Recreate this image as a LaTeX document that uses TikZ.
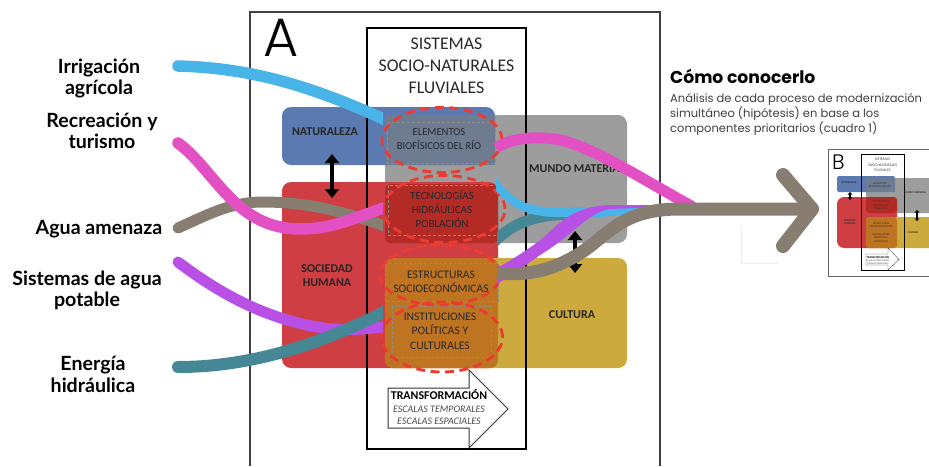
\documentclass[tikz,border=0pt]{standalone}
\usepackage{fontspec}
\setmainfont{Carlito}
\newfontfamily\lblf{Lato}
\newfontfamily\gothf{Poppins}
\newfontfamily\gothl[UprightFont=* Light]{Poppins}
\usetikzlibrary{arrows.meta,shapes.geometric}
\definecolor{cblue}{RGB}{72,180,232}
\definecolor{cmag}{RGB}{226,80,195}
\definecolor{cgrey}{RGB}{135,125,112}
\definecolor{cpur}{RGB}{185,80,230}
\definecolor{cteal}{RGB}{70,135,150}
\definecolor{bblue}{RGB}{92,122,178}
\definecolor{bgrey}{RGB}{157,157,157}
\definecolor{bbg}{RGB}{110,124,145}
\definecolor{bred}{RGB}{206,62,66}
\definecolor{bdred}{RGB}{180,42,36}
\definecolor{byel}{RGB}{205,170,62}
\definecolor{bora}{RGB}{190,116,32}
\definecolor{cdash}{RGB}{236,60,50}
\definecolor{ctxt}{RGB}{40,40,45}
\tikzset{
  x=1pt,y=-1pt,
  flow/.style={line width=#1,line cap=butt},
  lbl/.style={font=\lblf\bfseries\fontsize{19.6}{21.5}\selectfont,align=center,text=black,inner sep=0},
  ttl/.style={font=\fontsize{17.8}{22}\selectfont,align=center,text=ctxt,inner sep=0},
  poolcap/.style={font=\bfseries\fontsize{12}{14}\selectfont,align=center,text=black!85,inner sep=0},
  subcap/.style={font=\fontsize{#1}{14.3}\selectfont,align=center,text=ctxt,inner sep=0},
  pool/.style={rounded corners=9pt,draw=none},
  hole/.style={dash pattern=on 9pt off 5.5pt,draw=cdash,line width=2.9pt,ellipse,inner sep=0},
  dots/.style={draw=black!45,densely dashed,line width=.4pt},
  bothway/.style={line width=4.6pt,{Triangle[width=14pt,length=9pt]}-{Triangle[width=14pt,length=9pt]}},
  mini/.style={font=\bfseries\fontsize{2.8}{3.4}\selectfont,align=center,text=black!80,inner sep=0},
  minisub/.style={font=\fontsize{2.8}{3.4}\selectfont,align=center,text=black!80,inner sep=0},
  minibi/.style={line width=1.3pt,{Triangle[width=4.5pt,length=2.5pt]}-{Triangle[width=4.5pt,length=2.5pt]}},
}
\begin{document}
\begin{tikzpicture}
\useasboundingbox (0,0) rectangle (929,466);
\clip (0,0) rectangle (929,466);
\fill[white] (0,0) rectangle (929,466);
% outer frame
\draw[black!75,line width=1.5pt] (250,466)--(250,12)--(660,12)--(660,466);
\node[font=\gothl\fontsize{54}{54}\selectfont,inner sep=0] (letA) at (281.5,38) {A};
% pools
\fill[bgrey,pool] (385,115) rectangle (627,243);
\fill[bblue,pool] (282,107) rectangle (495,165);
\fill[bbg] (385,115) rectangle (495,165);
\fill[bred,pool] (282,182) rectangle (498,368);
\fill[bdred,rounded corners=5pt] (385,184) rectangle (498,243);
\fill[byel,pool] (385,258) rectangle (627,368);
\fill[bora,rounded corners=8pt] (385,258) rectangle (498,368);
% central box
\draw[black,line width=2.4pt] (367,28) rectangle (526,449);
% inner dashed boxes
\draw[dots] (387,122) rectangle (495,163);
\draw[dots] (388,185) rectangle (498,235);
\draw[dots] (385,263) rectangle (498,301);
\draw[dots] (392,306) rectangle (491,357);
% titles
\node[ttl] (title) at (446.5,66) {SISTEMAS\\SOCIO-NATURALES\\FLUVIALES};
\node[poolcap] (nat) at (325,132) {NATURALEZA};
\node[poolcap] (mun) at (577,169) {MUNDO MATERIAL};
\node[poolcap] (soc) at (327,276) {SOCIEDAD\\HUMANA};
\node[poolcap] (cul) at (572,315) {CULTURA};
\node[subcap=10.6] (ele) at (439,139) {ELEMENTOS\\BIOFÍSICOS DEL RÍO};
\node[subcap=11] (tec) at (442,209) {TECNOLOGÍAS\\HIDRÁULICAS\\POBLACIÓN};
\node[subcap=11.6] (est) at (441,282) {ESTRUCTURAS\\SOCIOECONÓMICAS};
\node[subcap=11.6] (ins) at (440,331) {INSTITUCIONES\\POLÍTICAS Y\\CULTURALES};
% dashed rings
\node[hole,minimum width=120pt,minimum height=65pt] (r1) at (442,140) {};
\node[hole,minimum width=122pt,minimum height=67pt] (r2) at (444,209) {};
\node[hole,minimum width=120pt,minimum height=60pt] (r3) at (440,275) {};
\node[hole,minimum width=121pt,minimum height=70pt] (r4) at (442,337) {};
% transformation arrow
\draw[black!80,fill=white,line width=1pt] (388,388)--(469,388)--(469,370)--(508,409)--(469,448)--(469,428)--(388,428)--cycle;
\node[font=\bfseries\fontsize{11.9}{14}\selectfont,inner sep=0] (tra) at (439,395) {TRANSFORMACIÓN};
\node[font=\itshape\fontsize{10}{12.4}\selectfont,align=center,text=black!70,inner sep=0] (esc) at (439,415) {ESCALAS TEMPORALES\\ESCALAS ESPACIALES};
% double arrows
\coordinate (a1) at (332,154); \coordinate (a2) at (332,198);
\draw[bothway] (a1)--(a2);
% left streams
\coordinate (bS) at (178,66); \coordinate (bE) at (390,122);
\coordinate (mS) at (178,143); \coordinate (mE) at (390,206);
\coordinate (gS) at (178,228); \coordinate (gE) at (390,228);
\coordinate (pS) at (178,262); \coordinate (pE) at (390,326);
\coordinate (tS) at (178,367); \coordinate (tE) at (390,309);
\begin{scope}
\clip (170,0) rectangle (383,466);
\draw[cgrey,flow=11pt,line cap=round] (gS) .. controls (205,216) and (230,202) .. (262,202) .. controls (305,202) and (340,210) .. (gE);
\draw[cmag,flow=11.5pt,line cap=round] (mS) .. controls (215,170) and (235,229) .. (300,229) .. controls (335,229) and (355,217) .. (mE);
\draw[cpur,flow=11pt,line cap=round] (pS) .. controls (215,290) and (260,317) .. (317,327) .. controls (340,331) and (360,330) .. (pE);
\draw[cteal,flow=12pt,line cap=round] (tS) .. controls (250,367) and (320,345) .. (tE);
\draw[cblue,flow=11.5pt,line cap=round] (bS) .. controls (250,68) and (310,85) .. (bE);
\end{scope}
% right streams
\coordinate (tR) at (490,246); \coordinate (tR2) at (570,214);
\begin{scope}
\clip (497,0) rectangle (929,466);
\draw[cteal,flow=11pt] (tR) .. controls (510,225) and (530,215) .. (tR2);
\end{scope}
\fill[cblue] (496,177) .. controls (508,195) and (522,207) .. (555,208) -- (650,205) -- (650,212) -- (600,217) -- (555,217) .. controls (520,216) and (508,203) .. (496,191) -- cycle;
\fill[cpur] (497,268) .. controls (515,258) and (530,248) .. (543,238) .. controls (560,222) and (575,206) .. (610,205) -- (660,205) -- (660,207) -- (610,209) .. controls (590,212) and (575,232) .. (548,250) .. controls (535,258) and (520,270) .. (497,284) -- cycle;
\coordinate (mR) at (496,148); \coordinate (mR2) at (693,207); \coordinate (mM) at (555,139);
\draw[cmag,flow=11pt] (mR) .. controls (510,139) and (530,136) .. (mM) .. controls (590,145) and (635,175) .. (mR2);
\coordinate (a3) at (575,231); \coordinate (a4) at (575,273);
\draw[bothway] (a3)--(a4);
\coordinate (gR) at (497,273); \coordinate (gR2) at (812,209);
\draw[cgrey,flow=13pt] (gR) .. controls (530,276) and (555,270) .. (585,250) .. controls (610,232) and (625,209) .. (680,209) -- (gR2);
\coordinate (hU) at (783,175); \coordinate (hD) at (783,246);
\draw[cgrey,line width=14pt,line cap=round,line join=round] (hU)--(gR2)--(hD);
% faint mark
\draw[black!7,line width=.6pt] (741,226)--(741,263)--(778,263);
% left labels
\node[lbl] (l1) at (99,78.5) {Irrigación\\agrícola};
\node[lbl] (l2) at (102,131) {Recreación y\\turismo};
\node[lbl] (l3) at (99,229) {Agua amenaza};
\node[lbl] (l4) at (87,290.5) {Sistemas de agua\\potable};
\node[lbl] (l5) at (93,374.5) {Energía\\hidráulica};
% right text
\node[font=\gothf\bfseries\fontsize{17.2}{18}\selectfont,anchor=west,inner sep=0] (h1) at (670,76) {Cómo conocerlo};
\node[font=\gothf\fontsize{11.5}{13.6}\selectfont,anchor=west,align=left,text=black!75,inner sep=0] (h2) at (670,114.5) {Análisis de cada proceso de modernización\\simultáneo (hipótesis) en base a los\\componentes prioritarios (cuadro 1)};
% mini panel B
\draw[black!60,line width=.8pt] (940,149)--(828,149)--(828,276)--(940,276);
\node[font=\gothl\fontsize{21}{21}\selectfont,inner sep=0] (letB) at (838.5,162) {B};
\fill[bgrey,rounded corners=3pt] (866,178) rectangle (945,213);
\fill[bblue,rounded corners=2pt] (837,176) rectangle (895,192);
\fill[bbg] (866,178) rectangle (895,192);
\fill[bred,rounded corners=7pt] (837,197) rectangle (897,248);
\fill[bdred,rounded corners=3pt] (866,197) rectangle (897,213);
\fill[byel,rounded corners=3pt] (866,217) rectangle (945,248);
\fill[bora,rounded corners=3pt] (866,217) rectangle (897,248);
\draw[black,line width=.9pt] (861,154) rectangle (904,270);
\node[font=\fontsize{3.8}{5.6}\selectfont,align=center,inner sep=0,text=black!75] (mt) at (882.5,165) {SISTEMAS\\SOCIO-NATURALES\\FLUVIALES};
\node[mini] (mn) at (849,183) {NATURALEZA};
\node[mini] (ms) at (850,222) {SOCIEDAD\\HUMANA};
\node[mini] (mm) at (915,193) {MUNDO MATERIAL};
\node[mini] (mc) at (913,233) {CULTURA};
\node[minisub] (me) at (880,185) {ELEMENTOS\\BIOFÍSICOS DEL RÍO};
\node[minisub] (mh) at (881,205) {TECNOLOGÍAS\\HIDRÁULICAS\\POBLACIÓN};
\node[minisub] (mo) at (881,225) {ESTRUCTURAS\\SOCIOECONÓMICAS};
\node[minisub] (mi) at (881,238) {INSTITUCIONES\\POLÍTICAS Y\\CULTURALES};
\coordinate (b1) at (850,192); \coordinate (b2) at (850,200);
\draw[minibi] (b1)--(b2);
\coordinate (b3) at (917,210); \coordinate (b4) at (917,221);
\draw[minibi] (b3)--(b4);
\draw[black!70,fill=white,line width=.4pt] (866,254)--(888,254)--(888,248)--(899,259.5)--(888,270)--(888,265)--(866,265)--cycle;
\node[mini,text=black] (mx) at (878,257) {TRANSFORMACIÓN};
\node[font=\itshape\fontsize{2.5}{3.2}\selectfont,align=center,inner sep=0,text=black!70] (my) at (878,262) {ESCALAS TEMPORALES\\ESCALAS ESPACIALES};
\end{tikzpicture}
\end{document}
